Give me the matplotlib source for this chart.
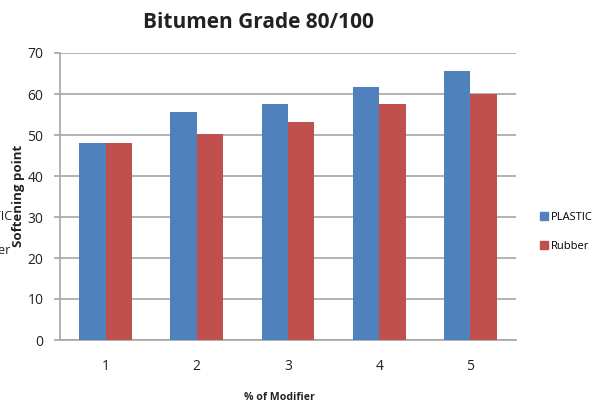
import matplotlib.pyplot as plt
import numpy as np
from matplotlib.patches import Patch

plt.rcParams['font.family'] = ['Open Sans', 'DejaVu Sans']

# data
modifier = ['1', '2', '3', '4', '5']
plastic = [48.1, 55.7, 57.6, 61.6, 65.5]
rubber = [48.1, 50.3, 53.2, 57.6, 60.1]

blue = '#4F81BD'
red = '#C0504D'

fig = plt.figure(figsize=(5.94, 4.08), dpi=100)
ax = fig.add_axes([60 / 594, 1 - 340 / 408, 456 / 594, 287 / 408])

x = np.arange(len(modifier))
w = 0.29
ax.bar(x - w / 2, plastic, w, color=blue, label='PLASTIC', zorder=3)
ax.bar(x + w / 2, rubber, w, color=red, label='Rubber', zorder=3)

ax.set_xlim(-0.5, len(modifier) - 0.5)
ax.set_ylim(0, 70)
ax.set_yticks(range(0, 71, 10))
ax.set_xticks(x)
ax.set_xticklabels(modifier)
ax.yaxis.grid(True, color='#A6A6A6', linewidth=1.2, zorder=0)

for s in ['top', 'right']:
    ax.spines[s].set_visible(False)
ax.spines['left'].set_color('#A6A6A6')
ax.spines['bottom'].set_color('#A6A6A6')
ax.spines['left'].set_linewidth(1.2)
ax.spines['bottom'].set_linewidth(1.2)
ax.tick_params(axis='y', colors='#A6A6A6', labelcolor='#222222', length=4, width=1.2,
               labelsize=10, pad=8)
ax.tick_params(axis='x', length=0, labelcolor='#222222', labelsize=10, pad=14)

fig.text(258 / 594, 1 - 22 / 408, 'Bitumen Grade 80/100', ha='center', va='center',
         fontsize=15, fontweight='bold', color='#222222')
fig.text(279 / 594, 1 - 398 / 408, '% of Modifier', ha='center', va='center',
         fontsize=7.6, fontweight='bold', color='#222222')
fig.text(19 / 594, 1 - 196 / 408, 'Softening point', ha='center', va='center',
         rotation=90, fontsize=9.5, fontweight='bold', color='#222222')

# clipped leftovers at the left edge
fig.text(13 / 594, 1 - 217 / 408, 'PLASTIC', ha='right', va='center',
         fontsize=9, color='#222222')
fig.text(11 / 594, 1 - 250 / 408, 'Rubber', ha='right', va='center',
         fontsize=9, color='#222222')

handles = [Patch(color=blue, label='PLASTIC'), Patch(color=red, label='Rubber')]
fig.legend(handles=handles, loc='center left', bbox_to_anchor=(530 / 594, 1 - 232 / 408),
           frameon=False, fontsize=8, handlelength=0.7, handleheight=0.7,
           handletextpad=0.3, labelspacing=1.6)

fig.savefig('out.png', dpi=100)
